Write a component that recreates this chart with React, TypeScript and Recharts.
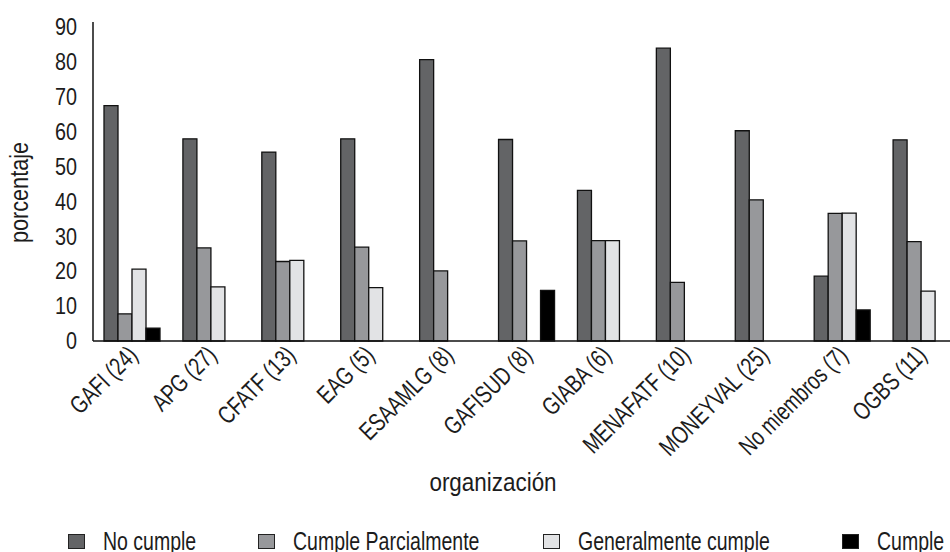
import React from "react";
import { BarChart, Bar, XAxis, YAxis, Legend } from "recharts";

const categories = [
  "GAFI (24)",
  "APG (27)",
  "CFATF (13)",
  "EAG (5)",
  "ESAAMLG (8)",
  "GAFISUD (8)",
  "GIABA (6)",
  "MENAFATF (10)",
  "MONEYVAL (25)",
  "No miembros (7)",
  "OGBS (11)",
];
const noCumple = [67.5, 58.0, 54.2, 58.0, 80.7, 57.8, 43.2, 84.0, 60.3, 18.6, 57.7];
const cumpleParcialmente = [7.8, 26.7, 22.8, 26.9, 20.1, 28.7, 28.8, 16.8, 40.5, 36.6, 28.5];
const generalmenteCumple = [20.6, 15.5, 23.1, 15.3, 0, 0, 28.8, 0, 0, 36.7, 14.3];
const cumple = [3.7, 0, 0, 0, 0, 14.5, 0, 0, 0, 8.9, 0];
const yTicks = [0, 10, 20, 30, 40, 50, 60, 70, 80, 90];
const seriesOrder = ["nc", "cp", "gc", "c"];
const legendItemWidths = [190, 285, 299, 110];

const data = categories.map((name, i) => ({
  name,
  nc: noCumple[i],
  cp: cumpleParcialmente[i],
  gc: generalmenteCumple[i],
  c: cumple[i],
}));

const FONT = "'Liberation Sans', Arial, sans-serif";
const TEXT = "#1c1c1c";

const XTick = (props: any) => {
  const { x, y, payload } = props;
  return (
    <g transform={`translate(${x - 6},${y})`}>
      <text
        transform="rotate(-45) scale(0.76,1)"
        textAnchor="end"
        dy="0.71em"
        fill={TEXT}
        fontSize={25}
        fontFamily={FONT}
      >
        {payload.value}
      </text>
    </g>
  );
};

const YTick = (props: any) => {
  const { x, y, payload } = props;
  return (
    <g transform={`translate(${x},${y})`}>
      <text
        transform="scale(0.86,1)"
        textAnchor="end"
        dy="0.355em"
        fill={TEXT}
        fontSize={23}
        fontFamily={FONT}
      >
        {payload.value}
      </text>
    </g>
  );
};

const YTitle = (props: any) => {
  const vb = props.viewBox || {};
  const bx = vb.x + 23;
  const cy = vb.y + vb.height / 2 + 11;
  return (
    <text
      transform={`translate(${bx},${cy}) rotate(-90) scale(0.85,1)`}
      textAnchor="middle"
      fill={TEXT}
      fontSize={25.5}
      fontFamily={FONT}
    >
      porcentaje
    </text>
  );
};

const XTitle = (props: any) => {
  const vb = props.viewBox || {};
  const cx = vb.x + vb.width / 2 - 34;
  const by = vb.y + vb.height - 37;
  return (
    <text
      transform={`translate(${cx},${by}) scale(0.88,1)`}
      textAnchor="middle"
      fill={TEXT}
      fontSize={25.5}
      fontFamily={FONT}
    >
      organización
    </text>
  );
};

const LegendContent = (props: any) => {
  const payload = [...(props.payload || [])].sort(
    (a: any, b: any) => seriesOrder.indexOf(a.dataKey) - seriesOrder.indexOf(b.dataKey)
  );
  return (
    <div
      style={{
        display: "flex",
        alignItems: "center",
        height: 24,
        paddingLeft: 68,
        paddingTop: 2,
        boxSizing: "border-box",
        fontFamily: FONT,
        fontSize: 25,
        lineHeight: "24px",
        color: TEXT,
      }}
    >
      {payload.map((p: any, i: number) => (
        <div
          key={p.value}
          style={{ display: "flex", alignItems: "center", width: legendItemWidths[i], flex: "none" }}
        >
          <span
            style={{
              display: "inline-block",
              width: 15,
              height: 13,
              background: p.color,
              border: "1px solid #222",
              marginRight: 18,
              flex: "none",
            }}
          />
          <span
            style={{
              whiteSpace: "nowrap",
              display: "inline-block",
              transform: "scaleX(0.78)",
              transformOrigin: "left center",
            }}
          >
            {p.value}
          </span>
        </div>
      ))}
    </div>
  );
};

export default function App() {
  return (
    <div
      style={{
        position: "absolute",
        left: 0,
        top: 0,
        width: 950,
        height: 552,
        overflow: "hidden",
        background: "#fff",
      }}
    >
      <BarChart
        width={980}
        height={552}
        data={data}
        margin={{ top: 22, right: 19, left: 5, bottom: 0 }}
        barGap={0}
        barCategoryGap={11}
      >
        <XAxis
          dataKey="name"
          interval={0}
          tickLine={false}
          tickSize={0}
          tickMargin={3}
          height={187}
          axisLine={{ stroke: "#111", strokeWidth: 1.5 }}
          tick={<XTick />}
          label={<XTitle />}
        />
        <YAxis
          width={88}
          domain={[0, 91.5]}
          ticks={yTicks}
          tickLine={false}
          tickSize={0}
          tickMargin={16}
          axisLine={{ stroke: "#111", strokeWidth: 1.5 }}
          tick={<YTick />}
          label={<YTitle />}
        />
        <Legend
          verticalAlign="bottom"
          content={<LegendContent />}
          wrapperStyle={{ left: 0, width: 950, bottom: 0 }}
        />
        <Bar dataKey="nc" name="No cumple" fill="#636466" stroke="#111" strokeWidth={1.3} isAnimationActive={false} />
        <Bar dataKey="cp" name="Cumple Parcialmente" fill="#97989b" stroke="#111" strokeWidth={1.3} isAnimationActive={false} />
        <Bar dataKey="gc" name="Generalmente cumple" fill="#e2e3e5" stroke="#111" strokeWidth={1.3} isAnimationActive={false} />
        <Bar dataKey="c" name="Cumple" fill="#000000" stroke="#111" strokeWidth={1.3} isAnimationActive={false} />
      </BarChart>
    </div>
  );
}
